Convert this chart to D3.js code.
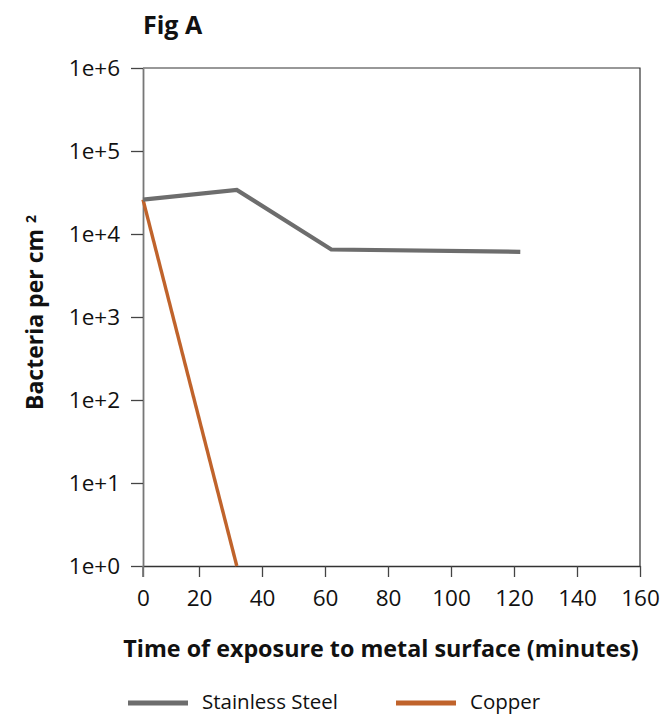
<!DOCTYPE html>
<html lang="en">
  <head>
    <meta charset="utf-8">
    <script type="text/javascript" src="https://d3js.org/d3.v7.min.js"></script>
    <title>Fig A - bacteria on metal surfaces</title>
    <style media="screen">
      body { margin: 0; background: #fff; }
      svg text { font-family: "Open Sans", sans-serif; fill: #111; }
    </style>
  </head>
  <body>
    <script type="text/javascript">

    // minutes
    var steelTime = [0, 32, 62, 122];
    var steelCount = [26000, 34000, 6500, 6100];
    var copperTime = [0, 32];
    var copperCount = [26000, 1];

    var xTicks = [0, 20, 40, 60, 80, 100, 120, 140, 160];
    var yTicks = [1, 10, 100, 1000, 10000, 100000, 1000000];
    var yTickLabels = ["1e+0", "1e+1", "1e+2", "1e+3", "1e+4", "1e+5", "1e+6"];

    var seriesNames = ["Stainless Steel", "Copper"];
    var seriesColors = ["#6d6d6d", "#c0632b"];

    var margin = {top: 68, left: 143, bottom: 151, right: 25},
    width = 665 - margin.left - margin.right,
    height = 717 - margin.top - margin.bottom;

    // the first interval is a little shorter than the rest in the original
    var x = d3.scaleLinear()
          .domain([0, 20, 160])
          .range([0, 56, width]);

    var y = d3.scaleLog()
          .domain([1, 1000000])
          .range([height, 0]);

    var svg = d3.select("body")
      .append("svg")
        .attr("width", 665)
        .attr("height", 717);

    var g = svg.append("g")
        .attr("transform", "translate(" + [margin.left, margin.top] + ")");

    // frame: top and right
    g.append("path")
        .attr("d", "M0,0H" + width + "V" + height)
        .attr("fill", "none")
        .attr("stroke", "#333")
        .attr("stroke-width", 1.2);

    var xAxis = g.append("g")
        .attr("transform", "translate(0," + height + ")")
        .call(d3.axisBottom(x)
          .tickValues(xTicks)
          .tickSize(11)
          .tickSizeOuter(0)
          .tickPadding(13)
          .tickFormat(d3.format("d")));
    xAxis.select(".domain").attr("stroke", "#333").attr("stroke-width", 1.3);
    xAxis.selectAll(".tick line").attr("stroke", "#444").attr("stroke-width", 1.3);
    xAxis.selectAll("text").style("font-size", "22.5px").attr("fill", "#111");

    var yAxis = g.append("g")
        .call(d3.axisLeft(y)
          .tickValues(yTicks)
          .tickSize(12)
          .tickSizeOuter(0)
          .tickPadding(11)
          .tickFormat(function(d, i) { return yTickLabels[i]; }));
    yAxis.select(".domain").attr("stroke", "#777").attr("stroke-width", 1.8);
    yAxis.selectAll(".tick line").attr("stroke", "#444").attr("stroke-width", 1.3);
    yAxis.selectAll("text").style("font-size", "22.5px").attr("fill", "#111");

    // left axis runs on past the bottom like in the original
    g.append("line")
        .attr("x1", 0).attr("x2", 0)
        .attr("y1", height).attr("y2", height + 11)
        .attr("stroke", "#777")
        .attr("stroke-width", 1.8);

    var line = d3.line()
        .x(function(d) { return x(d[0]); })
        .y(function(d) { return y(d[1]); });

    var steel = d3.zip(steelTime, steelCount);
    var copper = d3.zip(copperTime, copperCount);

    g.append("path")
        .datum(copper)
        .attr("fill", "none")
        .attr("stroke", seriesColors[1])
        .attr("stroke-width", 3.4)
        .attr("d", line);

    g.append("path")
        .datum(steel)
        .attr("fill", "none")
        .attr("stroke", seriesColors[0])
        .attr("stroke-width", 4.2)
        .attr("d", line);

    // titles
    svg.append("text")
        .attr("x", 143)
        .attr("y", 34)
        .style("font-size", "25px")
        .style("font-weight", "bold")
        .text("Fig A");

    svg.append("text")
        .attr("x", 381)
        .attr("y", 657)
        .attr("text-anchor", "middle")
        .style("font-size", "23.3px")
        .style("font-weight", "bold")
        .text("Time of exposure to metal surface (minutes)");

    var yt = svg.append("text")
        .attr("transform", "translate(43,410) rotate(-90)")
        .style("font-size", "23px")
        .style("font-weight", "bold");
    yt.append("tspan").text("Bacteria per cm ");
    yt.append("tspan")
        .attr("dy", "-0.5em")
        .style("font-size", "14px")
        .text("2");

    // legend
    var legendX = [128, 396];
    var legend = svg.selectAll(".legend")
        .data(seriesNames)
        .enter()
      .append("g")
        .attr("class", "legend")
        .attr("transform", function(d, i) { return "translate(" + legendX[i] + ",703)"; });

    legend.append("line")
        .attr("x1", 0).attr("x2", 60)
        .attr("stroke", function(d, i) { return seriesColors[i]; })
        .attr("stroke-width", 5);

    legend.append("text")
        .attr("x", 74)
        .attr("dy", "0.3em")
        .style("font-size", "20.5px")
        .text(function(d) { return d; });

    </script>
  </body>
</html>
